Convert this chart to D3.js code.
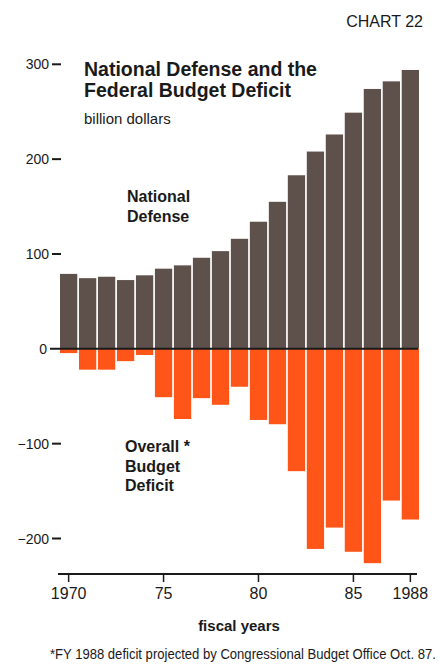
<!DOCTYPE html>
<html>
<head>
<meta charset="utf-8">
<script src="https://cdn.jsdelivr.net/npm/d3@7"></script>
<style>
  body { margin: 0; background: #fff; }
  svg text { font-family: "Liberation Sans", Arial, sans-serif; fill: #1a1a1a; }
  .narrow { font-family: "Liberation Sans Narrow", "Liberation Sans", Arial, sans-serif; }
</style>
</head>
<body>
<div id="chart"></div>
<script>
// fiscal years 1970-1988, billion dollars
var years = d3.range(1970, 1989);
var defense = [79, 74.5, 76, 72.5, 77.5, 84.5, 88, 96, 103, 116, 134, 155, 183, 208, 226, 249, 274, 282, 294];
var deficit = [-4.5, -22, -22, -13, -6.5, -51, -74, -52, -59, -40, -75, -79.5, -129, -211, -188.5, -214, -226, -160, -180];
var yTicks = [300, 200, 100, 0, -100, -200];
var xTicks = [1970, 1975, 1980, 1985, 1988];
var xTickLabels = { 1970: "1970", 1975: "75", 1980: "80", 1985: "85", 1988: "1988" };

var W = 445, H = 666;
var svg = d3.select("#chart").append("svg")
  .attr("width", W)
  .attr("height", H);

var x = d3.scaleBand()
  .domain(years)
  .range([60, 419])
  .paddingInner(0.09)
  .paddingOuter(0);

var y = d3.scaleLinear()
  .domain([-200, 300])
  .range([538.5, 64.3]);

// bars
svg.append("g").selectAll("rect")
  .data(years)
  .enter().append("rect")
    .attr("x", function(d) { return x(d); })
    .attr("width", x.bandwidth())
    .attr("y", function(d, i) { return y(defense[i]); })
    .attr("height", function(d, i) { return y(0) - y(defense[i]); })
    .style("fill", "#5e514c");

svg.append("g").selectAll("rect")
  .data(years)
  .enter().append("rect")
    .attr("x", function(d) { return x(d); })
    .attr("width", x.bandwidth())
    .attr("y", y(0))
    .attr("height", function(d, i) { return y(deficit[i]) - y(0); })
    .style("fill", "#ff5518");

// zero line
svg.append("line")
  .attr("x1", 50).attr("x2", 418)
  .attr("y1", y(0)).attr("y2", y(0))
  .style("stroke", "#1a1a1a")
  .style("stroke-width", 2);

// y ticks: label + dash
var yt = svg.append("g").selectAll("g")
  .data(yTicks)
  .enter().append("g")
    .attr("transform", function(d) { return "translate(0," + y(d) + ")"; });

yt.append("text")
  .attr("class", "narrow")
  .attr("x", function(d) { return d === 0 ? 47 : 49; })
  .attr("y", 5)
  .attr("text-anchor", "end")
  .style("font-size", "14px")
  .text(function(d) { return d < 0 ? "\u2212" + Math.abs(d) : d; });

yt.filter(function(d) { return d !== 0; })
  .append("line")
    .attr("x1", 52).attr("x2", 61)
    .style("stroke", "#1a1a1a")
    .style("stroke-width", 2);

// bottom axis
var xAxis = d3.axisBottom(x)
  .tickValues(xTicks)
  .tickFormat(function(d) { return xTickLabels[d]; })
  .tickSize(8)
  .tickSizeOuter(0)
  .tickPadding(6);

var gx = svg.append("g")
  .attr("transform", "translate(0,574)")
  .call(xAxis);
gx.select(".domain")
  .attr("d", "M58,0H417")
  .style("stroke", "#1a1a1a")
  .style("stroke-width", 2);
gx.selectAll(".tick line")
  .style("stroke", "#1a1a1a")
  .style("stroke-width", 1.5);
gx.selectAll(".tick text")
  .attr("class", "narrow")
  .style("font-size", "16px")
  .style("fill", "#1a1a1a")
  .style("font-family", null);

// texts
svg.append("text")
  .attr("x", 423).attr("y", 27)
  .attr("text-anchor", "end")
  .style("font-size", "16px")
  .text("CHART 22");

svg.append("text")
  .attr("x", 84).attr("y", 76)
  .style("font-size", "19.5px")
  .style("font-weight", "bold")
  .text("National Defense and the");
svg.append("text")
  .attr("x", 84).attr("y", 97)
  .style("font-size", "19.5px")
  .style("font-weight", "bold")
  .text("Federal Budget Deficit");

svg.append("text")
  .attr("x", 84).attr("y", 124)
  .style("font-size", "15px")
  .text("billion dollars");

svg.append("text")
  .attr("x", 127).attr("y", 202)
  .style("font-size", "16px")
  .style("font-weight", "bold")
  .text("National");
svg.append("text")
  .attr("x", 127).attr("y", 222)
  .style("font-size", "16px")
  .style("font-weight", "bold")
  .text("Defense");

["Overall *", "Budget", "Deficit"].forEach(function(t, i) {
  svg.append("text")
    .attr("x", 125).attr("y", 452 + i * 19.5)
    .style("font-size", "16px")
    .style("font-weight", "bold")
    .text(t);
});

svg.append("text")
  .attr("x", 239).attr("y", 631)
  .attr("text-anchor", "middle")
  .style("font-size", "15px")
  .style("font-weight", "bold")
  .text("fiscal years");

// footnote, squeezed horizontally like the condensed original
var foot = svg.append("text")
  .attr("class", "narrow")
  .style("font-size", "14.5px")
  .text("*FY 1988 deficit projected by Congressional Budget Office  Oct. 87.");
var fw = foot.node().getComputedTextLength();
foot.attr("transform", "translate(50,659) scale(" + (386 / fw) + ",1)");
</script>
</body>
</html>
